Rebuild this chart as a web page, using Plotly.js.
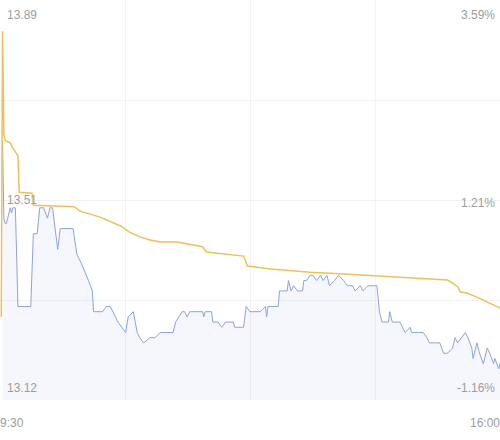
<!DOCTYPE html>
<html>
<head>
<meta charset="utf-8">
<script src="https://cdn.plot.ly/plotly-3.0.1.min.js"></script>
<style>
    html, body { margin: 0; padding: 0; background: #fff; }
    #chart { width: 500px; height: 440px; }
</style>
</head>
<body>
<div id="chart"></div>
<script>
// minutes after 9:30 and price
const priceMinutes = [2, 3, 4, 5, 6, 8, 9, 10, 12, 13, 14, 24, 26, 29, 31, 34, 37, 39, 41, 44,
    45, 47, 56, 57, 60, 64, 69, 72, 73, 80, 83, 86, 90, 92, 98, 100, 104, 107, 109, 112,
    117, 121, 125, 127, 135, 137, 142, 144, 146, 148, 158, 159, 160, 165, 166, 170, 173, 176, 182, 183,
    190, 192, 195, 203, 207, 208, 209, 217, 218, 224, 225, 227, 229, 232, 236, 237, 239, 242, 244, 247,
    250, 252, 255, 257, 261, 264, 268, 271, 275, 277, 281, 283, 287, 294, 296, 298, 303, 304, 306, 312,
    314, 316, 320, 321, 330, 333, 335, 343, 346, 349, 353, 355, 357, 360, 363, 365, 368, 369, 372, 374,
    377, 380, 382, 385, 386, 389, 390]
const prices = [13.62, 13.47, 13.46, 13.46, 13.47, 13.49, 13.48, 13.49, 13.49, 13.38, 13.30, 13.30, 13.44, 13.44, 13.49, 13.49, 13.47, 13.49, 13.49, 13.43,
    13.41, 13.45, 13.45, 13.45, 13.40, 13.38, 13.35, 13.33, 13.29, 13.29, 13.30, 13.30, 13.28, 13.27, 13.25, 13.28, 13.29, 13.25, 13.24, 13.23,
    13.24, 13.24, 13.25, 13.25, 13.25, 13.27, 13.29, 13.29, 13.28, 13.29, 13.29, 13.28, 13.29, 13.29, 13.27, 13.27, 13.26, 13.27, 13.27, 13.26,
    13.26, 13.30, 13.29, 13.29, 13.30, 13.28, 13.30, 13.30, 13.33, 13.33, 13.35, 13.33, 13.34, 13.33, 13.33, 13.35, 13.35, 13.36, 13.36, 13.35,
    13.36, 13.35, 13.36, 13.34, 13.35, 13.36, 13.35, 13.34, 13.34, 13.33, 13.34, 13.33, 13.34, 13.34, 13.29, 13.27, 13.27, 13.29, 13.27, 13.27,
    13.26, 13.25, 13.26, 13.25, 13.25, 13.24, 13.23, 13.23, 13.21, 13.21, 13.22, 13.24, 13.23, 13.24, 13.25, 13.24, 13.22, 13.20, 13.23, 13.21,
    13.19, 13.22, 13.21, 13.19, 13.20, 13.18, 13.19]

const avgMinutes = [1, 2, 3, 4, 6, 8, 10, 12, 13, 14, 15, 25, 26, 58, 62, 78, 94, 101, 109, 117,
    125, 138, 158, 161, 190, 193, 211, 242, 265, 296, 335, 349, 353, 357, 359, 364, 372, 380, 390]
const avgPrices = [13.28, 13.83, 13.63, 13.62, 13.617, 13.615, 13.605, 13.597, 13.592, 13.59, 13.52, 13.518, 13.495, 13.492, 13.484, 13.472, 13.455, 13.443, 13.434, 13.428,
    13.424, 13.424, 13.415, 13.405, 13.397, 13.378, 13.372, 13.366, 13.363, 13.359, 13.353, 13.351, 13.345, 13.338, 13.328, 13.326, 13.318, 13.309, 13.297]

const priceRange = [13.12, 13.89]
const pctRange = [-1.16, 3.59]
const priceTicks = [13.89, 13.51, 13.12]
const pctTickVals = [3.59, 1.215, -1.16]
const pctTicks = ['3.59%', '1.21%', '-1.16%']
const timeTickVals = [0, 390]
const timeTicks = ['9:30', '16:00']

const labelFont = { family: 'Liberation Sans, Arial, sans-serif', size: 12, color: '#9d9d9d' }
const shifts = [-15, -3, 12]

function buildAnnotations() {
    const notes = []
    priceTicks.forEach((v, i) => {
        notes.push({
            xref: 'paper', x: 0, xanchor: 'left', xshift: 5,
            yref: 'y', y: v, yanchor: 'middle', yshift: shifts[i],
            text: v.toFixed(2), showarrow: false, font: labelFont
        })
    })
    pctTickVals.forEach((v, i) => {
        notes.push({
            xref: 'paper', x: 1, xanchor: 'right', xshift: -3,
            yref: 'y2', y: v, yanchor: 'middle', yshift: shifts[i],
            text: pctTicks[i], showarrow: false, font: labelFont
        })
    })
    timeTickVals.forEach((v, i) => {
        notes.push({
            xref: 'x', x: v, xanchor: i === 0 ? 'left' : 'right',
            xshift: i === 0 ? -2 : 2,
            yref: 'paper', y: -0.0575, yanchor: 'middle',
            text: timeTicks[i], showarrow: false, font: labelFont
        })
    })
    return notes
}

const step = (priceRange[1] - priceRange[0]) / 4
const gridY = [0, 1, 2, 3, 4].map(k => priceRange[0] + k * step)

const priceLine = {
    x: priceMinutes,
    y: prices,
    type: 'scatter',
    mode: 'lines',
    line: { color: '#8ea2de', width: 1 },
    fill: 'tozeroy',
    fillcolor: 'rgba(130,155,225,0.08)',
    hoverinfo: 'none'
}

const avgLine = {
    x: avgMinutes,
    y: avgPrices,
    type: 'scatter',
    mode: 'lines',
    line: { color: '#eec05a', width: 1.5 },
    hoverinfo: 'none'
}

const pctDummy = {
    x: [0], y: [0], yaxis: 'y2', mode: 'markers',
    marker: { opacity: 0 }, hoverinfo: 'none'
}

const layout = {
    width: 500,
    height: 440,
    margin: { l: 0, r: 0, t: 0, b: 40 },
    paper_bgcolor: '#ffffff',
    plot_bgcolor: '#ffffff',
    showlegend: false,
    xaxis: {
        range: [0, 390],
        tickvals: [97.5, 195, 292.5],
        showticklabels: false,
        ticks: '',
        showgrid: true,
        gridcolor: '#f2f2f2',
        zeroline: false
    },
    yaxis: {
        range: priceRange,
        tickvals: gridY,
        showticklabels: false,
        ticks: '',
        showgrid: true,
        gridcolor: '#f2f2f2',
        zeroline: false
    },
    yaxis2: {
        range: pctRange,
        overlaying: 'y',
        side: 'right',
        showgrid: false,
        showticklabels: false,
        zeroline: false
    },
    annotations: buildAnnotations()
}

const config = { displayModeBar: false, staticPlot: true }

Plotly.newPlot('chart', [priceLine, avgLine, pctDummy], layout, config)
</script>
</body>
</html>
